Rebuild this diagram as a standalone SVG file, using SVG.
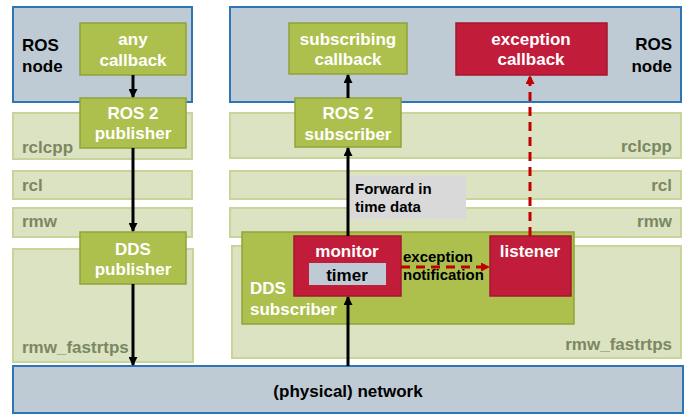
<svg xmlns="http://www.w3.org/2000/svg" width="689" height="415" viewBox="0 0 689 415">
<defs>
<style>
text{font-family:"Liberation Sans",Arial,sans-serif;font-weight:bold}
.node{fill:#bfcbd4;stroke:#2e75b6;stroke-width:2}
.band{fill:#dce3c2;stroke:#c8d49a;stroke-width:2}
.green{fill:#adc04e;stroke:#8fa33c;stroke-width:1.5}
.red{fill:#c11d3b;stroke:#a3172f;stroke-width:1.5}
.wt{fill:#fff;font-size:17px;text-anchor:middle}
.wl{fill:#fff;font-size:17px;text-anchor:start}
.bt{fill:#000;font-size:17px}
.lt{fill:#7b8762;font-size:17px}
.arr{stroke:#000;stroke-width:3;fill:none}
.rd{stroke:#c00000;stroke-width:3;fill:none;stroke-dasharray:9,6}
</style>
<marker id="ah" markerWidth="9" markerHeight="9" refX="8" refY="4.5" orient="auto" markerUnits="userSpaceOnUse">
<path d="M0,0 L9,4.5 L0,9 Z" fill="#000"/>
</marker>
<marker id="ahr" markerWidth="9" markerHeight="9" refX="8" refY="4.5" orient="auto" markerUnits="userSpaceOnUse">
<path d="M0,0 L9,4.5 L0,9 Z" fill="#c00000"/>
</marker>
</defs>

<g id="layers-left">
<rect class="band" x="13" y="113" width="179" height="46"/>
<text class="lt" x="22" y="153">rclcpp</text>
<rect class="band" x="13" y="171" width="179" height="28"/>
<text class="lt" x="22" y="191">rcl</text>
<rect class="band" x="13" y="208" width="179" height="29"/>
<text class="lt" x="22" y="227">rmw</text>
<rect class="band" x="13" y="249" width="180" height="113"/>
<text class="lt" x="22" y="353">rmw_fastrtps</text>
</g>

<g id="layers-right">
<rect class="band" x="230" y="113" width="451" height="45"/>
<text class="lt" x="672" y="152" text-anchor="end">rclcpp</text>
<rect class="band" x="230" y="171" width="451" height="28"/>
<text class="lt" x="672" y="191" text-anchor="end">rcl</text>
<rect class="band" x="230" y="208" width="451" height="29"/>
<text class="lt" x="672" y="227" text-anchor="end">rmw</text>
<rect class="band" x="232" y="246" width="449" height="112"/>
<text class="lt" x="672" y="350" text-anchor="end">rmw_fastrtps</text>
</g>

<g id="ros-node-left">
<rect class="node" x="13" y="7" width="179" height="95"/>
<text class="bt" x="22" y="51">ROS</text>
<text class="bt" x="22" y="72">node</text>
</g>

<g id="ros-node-right">
<rect class="node" x="230" y="7" width="451" height="95"/>
<text class="bt" x="672" y="50" text-anchor="end">ROS</text>
<text class="bt" x="672" y="72" text-anchor="end">node</text>
</g>

<g id="network">
<rect class="node" x="13" y="366" width="670" height="47"/>
<text class="bt" x="348" y="397" text-anchor="middle">(physical) network</text>
</g>

<g id="any-callback">
<rect class="green" x="80" y="23" width="106" height="52"/>
<text class="wt" x="133" y="45">any</text>
<text class="wt" x="133" y="66">callback</text>
</g>

<g id="ros2-publisher">
<rect class="green" x="80" y="98" width="106" height="50"/>
<text class="wt" x="133" y="119">ROS 2</text>
<text class="wt" x="133" y="139">publisher</text>
</g>

<g id="dds-publisher">
<rect class="green" x="80" y="232" width="106" height="52"/>
<text class="wt" x="133" y="255">DDS</text>
<text class="wt" x="133" y="275">publisher</text>
</g>

<g id="subscribing-callback">
<rect class="green" x="289" y="23" width="118" height="51"/>
<text class="wt" x="348" y="45">subscribing</text>
<text class="wt" x="348" y="65">callback</text>
</g>

<g id="exception-callback">
<rect class="red" x="456" y="23" width="151" height="52"/>
<text class="wt" x="531" y="45">exception</text>
<text class="wt" x="531" y="65">callback</text>
</g>

<g id="ros2-subscriber">
<rect class="green" x="295" y="98" width="106" height="49"/>
<text class="wt" x="348" y="119">ROS 2</text>
<text class="wt" x="348" y="140">subscriber</text>
</g>

<g id="dds-subscriber">
<rect class="green" x="242" y="232" width="332" height="92"/>
<text class="wl" x="250" y="294">DDS</text>
<text class="wl" x="250" y="315">subscriber</text>
</g>

<g id="monitor">
<rect class="red" x="294" y="236" width="107" height="60"/>
<text class="wt" x="347" y="257">monitor</text>
<rect x="309" y="263" width="77" height="22" fill="#bfcbd4"/>
<text class="bt" x="347" y="281" text-anchor="middle">timer</text>
</g>

<g id="listener">
<rect class="red" x="490" y="236" width="81" height="60"/>
<text class="wt" x="530" y="257">listener</text>
</g>

<g id="forward-label">
<rect x="349" y="176" width="117" height="43" fill="#d9d9d9"/>
<text class="bt" x="355" y="194" style="font-size:15px">Forward in</text>
<text class="bt" x="355" y="212" style="font-size:15px">time data</text>
</g>

<g id="connectors">
<line class="arr" x1="133" y1="75" x2="133" y2="97" marker-end="url(#ah)"/>
<line class="arr" x1="133" y1="148" x2="133" y2="231" marker-end="url(#ah)"/>
<line class="arr" x1="133" y1="284" x2="133" y2="365" marker-end="url(#ah)"/>
<line class="arr" x1="348" y1="366" x2="348" y2="297" marker-end="url(#ah)"/>
<line class="arr" x1="348" y1="236" x2="348" y2="148" marker-end="url(#ah)"/>
<line class="arr" x1="348" y1="98" x2="348" y2="75" marker-end="url(#ah)"/>
<line class="rd" x1="401" y1="267" x2="489" y2="267" marker-end="url(#ahr)"/>
<line class="rd" x1="530" y1="236" x2="530" y2="76" marker-end="url(#ahr)"/>
<text class="bt" x="403" y="262" style="font-size:15px">exception</text>
<text class="bt" x="403" y="280" style="font-size:15px">notification</text>
</g>
</svg>
